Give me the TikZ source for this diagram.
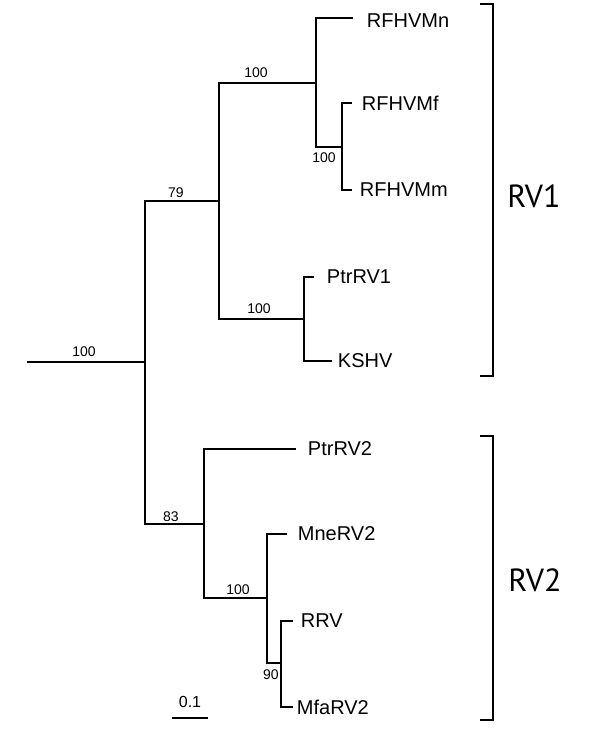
\documentclass[tikz,border=0pt]{standalone}
\usepackage{fontspec}
\setmainfont{Liberation Sans}
\newfontfamily\cladefont{PT Sans}
\usetikzlibrary{positioning}

\begin{document}
\begin{tikzpicture}[x=1pt, y=-1pt, line width=1.9pt,
    leaf/.style={inner sep=0pt, font=\fontsize{20}{20}\selectfont},
    boot/.style={inner sep=0pt, font=\fontsize{14}{14}\selectfont},
    bracket/.style={line width=2.8pt},
    cladename/.style={inner sep=0pt, font=\cladefont\fontsize{32}{32}\selectfont}]
    \useasboundingbox (0,0) rectangle (600,732);

    % internal nodes
    \coordinate (root) at (27,362);
    \coordinate (n0) at (145,362);
    \coordinate (n79) at (219,201);
    \coordinate (n83) at (204,524);
    \coordinate (nRF) at (316,83);
    \coordinate (nMM) at (342,147);
    \coordinate (nKS) at (304,319);
    \coordinate (nMn) at (267,598);
    \coordinate (nRR) at (281,663);

    % branch tips
    \coordinate (tRFn) at (353,18);
    \coordinate (tRFf) at (352,103);
    \coordinate (tRFm) at (352,190);
    \coordinate (tPt1) at (314,277);
    \coordinate (tKS) at (332,361);
    \coordinate (tPt2) at (296,449);
    \coordinate (tMne) at (287,534);
    \coordinate (tRRV) at (293,621);
    \coordinate (tMfa) at (293,707);

    \draw (root) -- (n0);
    \draw (n0) |- (n79);
    \draw (n0) |- (n83);
    \draw (n79) |- (nRF);
    \draw (n79) |- (nKS);
    \draw (nRF) |- (tRFn);
    \draw (nRF) |- (nMM);
    \draw (nMM) |- (tRFf);
    \draw (nMM) |- (tRFm);
    \draw (nKS) |- (tPt1);
    \draw (nKS) |- (tKS);
    \draw (n83) |- (tPt2);
    \draw (n83) |- (nMn);
    \draw (nMn) |- (tMne);
    \draw (nMn) |- (nRR);
    \draw (nRR) |- (tRRV);
    \draw (nRR) |- (tMfa);

    \node[leaf, right=13pt of tRFn, yshift=-3pt] (rfhvmn) {RFHVMn};
    \node[leaf, right=9pt of tRFf] (rfhvmf) {RFHVMf};
    \node[leaf, right=7pt of tRFm] (rfhvmm) {RFHVMm};
    \node[leaf, right=12pt of tPt1] (ptrrv1) {PtrRV1};
    \node[leaf, right=5pt of tKS] (kshv) {KSHV};
    \node[leaf, right=11pt of tPt2] (ptrrv2) {PtrRV2};
    \node[leaf, right=10pt of tMne] (mnerv2) {MneRV2};
    \node[leaf, right=7pt of tRRV] (rrv) {RRV};
    \node[leaf, right=3pt of tMfa] (mfarv2) {MfaRV2};

    % bootstrap values
    \node[boot] (b0) at (84,352) {100};
    \node[boot] (b79) at (176,193) {79};
    \node[boot] (bRF) at (256,73) {100};
    \node[boot] (bMM) at (324,158) {100};
    \node[boot] (bKS) at (259,309) {100};
    \node[boot] (b83) at (171,517) {83};
    \node[boot] (bMn) at (238,590) {100};
    \node[boot] (bRR) at (271,675) {90};

    % scale bar
    \coordinate (sa) at (172,718);
    \coordinate (sb) at (208,718);
    \draw (sa) -- (sb);
    \node[boot, font=\fontsize{16}{16}\selectfont] (scale) at (190,702) {0.1};

    % clades
    \coordinate (c1a) at (480,4);
    \coordinate (c1b) at (480,376);
    \coordinate (c2a) at (480,436);
    \coordinate (c2b) at (480,720);
    \draw[bracket] (c1a) -- ++(13,0) |- (c1b);
    \draw[bracket] (c2a) -- ++(13,0) |- (c2b);
    \node[cladename] (rv1) at (534,196) {RV1};
    \node[cladename] (rv2) at (535,580) {RV2};
\end{tikzpicture}
\end{document}
